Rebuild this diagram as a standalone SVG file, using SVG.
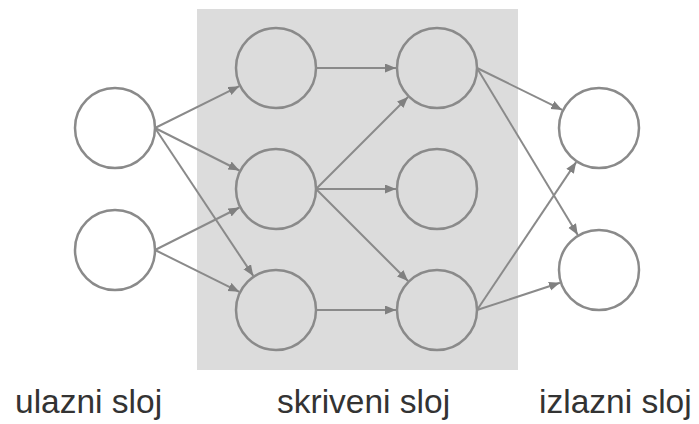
<svg xmlns="http://www.w3.org/2000/svg" width="699" height="424" viewBox="0 0 699 424">
  <style>
    .node { stroke: #8a8a8a; stroke-width: 2.5; }
    .in { fill: #ffffff; }
    .hid { fill: #dcdcdc; }
    .edge { stroke: #8a8a8a; stroke-width: 2; fill: none; marker-end: url(#arrow); }
    .label { font-family: "Liberation Sans", Arial, sans-serif; font-size: 33.5px; fill: #333333; }
  </style>
  <defs>
    <marker id="arrow" markerUnits="userSpaceOnUse" markerWidth="12" markerHeight="10" refX="11" refY="4.5" orient="auto">
      <path d="M0,0 L11,4.5 L0,9 z" fill="#808080"/>
    </marker>
  </defs>
  <rect x="0" y="0" width="699" height="424" fill="#ffffff"/>
  <rect id="hidden-area" x="197" y="9" width="321" height="361" fill="#dcdcdc"/>

  <g id="connectors">
    <line class="edge" x1="155" y1="128" x2="239.3" y2="86.2"/>
    <line class="edge" x1="155" y1="128" x2="239.4" y2="170.5"/>
    <line class="edge" x1="155" y1="128" x2="253.3" y2="275.9"/>
    <line class="edge" x1="155" y1="250" x2="239.4" y2="207.5"/>
    <line class="edge" x1="155" y1="250" x2="239.3" y2="291.8"/>
    <line class="edge" x1="316" y1="68" x2="396" y2="68"/>
    <line class="edge" x1="316" y1="189" x2="408" y2="97"/>
    <line class="edge" x1="316" y1="189" x2="396" y2="189"/>
    <line class="edge" x1="316" y1="189" x2="408" y2="281"/>
    <line class="edge" x1="316" y1="310" x2="396" y2="310"/>
    <line class="edge" x1="477" y1="68" x2="562.2" y2="109.9"/>
    <line class="edge" x1="477" y1="68" x2="577.8" y2="234.9"/>
    <line class="edge" x1="477" y1="310" x2="576.2" y2="162.1"/>
    <line class="edge" x1="477" y1="310" x2="560" y2="282.8"/>
  </g>

  <g id="in1"><circle class="node in" cx="115" cy="128" r="40"/></g>
  <g id="in2"><circle class="node in" cx="115" cy="250" r="40"/></g>
  <g id="h1a"><circle class="node hid" cx="276" cy="68" r="40"/></g>
  <g id="h1b"><circle class="node hid" cx="276" cy="189" r="40"/></g>
  <g id="h1c"><circle class="node hid" cx="276" cy="310" r="40"/></g>
  <g id="h2a"><circle class="node hid" cx="437" cy="68" r="40"/></g>
  <g id="h2b"><circle class="node hid" cx="437" cy="189" r="40"/></g>
  <g id="h2c"><circle class="node hid" cx="437" cy="310" r="40"/></g>
  <g id="out1"><circle class="node in" cx="599" cy="128" r="40"/></g>
  <g id="out2"><circle class="node in" cx="599" cy="270" r="40"/></g>

  <g id="labels">
    <text class="label" x="15" y="413">ulazni sloj</text>
    <text class="label" x="277" y="413">skriveni sloj</text>
    <text class="label" x="539" y="413">izlazni sloj</text>
  </g>
</svg>
